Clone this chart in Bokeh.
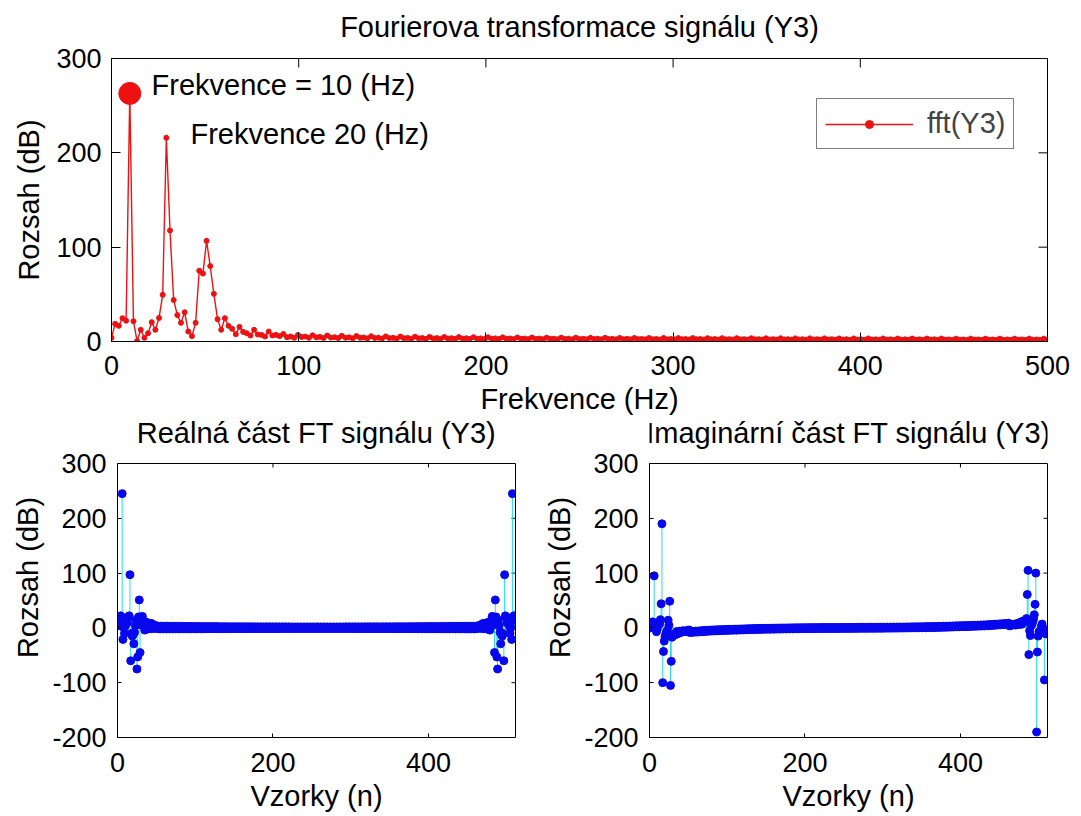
import numpy as np
from bokeh.plotting import figure
from bokeh.layouts import column, row
from bokeh.models import Range1d, FixedTicker, Label, Legend, LegendItem, LinearAxis
from bokeh.embed import file_html
from bokeh.resources import INLINE

FONT = "Liberation Sans"
FS = 1000          # sampling frequency (Hz)
N = 512            # FFT length

# |FFT| for bins k = 0..256
mag_half = [
    3.9, 18.7, 16.6, 24.7, 22.0, 263.0, 21.5, 0.5, 12.4, 3.9,
    8.8, 20.5, 12.4, 25.0, 49.5, 216.0, 117.7, 44.0, 28.0, 19.8,
    31.0, 10.6, 5.7, 19.8, 75.0, 72.0, 106.7, 80.0, 50.5, 23.7,
    12.4, 24.7, 16.6, 13.4, 7.8, 15.5, 10.2, 8.8, 6.4, 12.4,
    7.4, 7.0, 5.3, 10.6, 6.4, 7.0, 5.7, 8.0, 4.6, 5.3,
    3.9,
    7.0, 4.8, 5.2, 3.9, 6.6, 4.4, 4.9, 3.8,
    6.3, 4.2, 4.6, 3.6, 6.0, 4.0, 4.4, 3.4,
    5.8, 3.9, 4.2, 3.3, 5.6, 3.7, 4.0, 3.2,
    5.4, 3.6, 3.9, 3.1, 5.2, 3.5, 3.8, 3.0,
    5.1, 3.4, 3.7, 2.9, 4.9, 3.3, 3.6, 2.9,
    4.8, 3.2, 3.5, 2.8, 4.7, 3.1, 3.4, 2.8,
    4.6, 3.0, 3.3, 2.7, 4.5, 3.0, 3.3, 2.7,
    4.4, 2.9, 3.2, 2.6, 4.3, 2.9, 3.1, 2.6,
    4.2, 2.8, 3.1, 2.5, 4.1, 2.8, 3.0, 2.5,
    4.1, 2.7, 3.0, 2.4, 4.0, 2.7, 2.9, 2.4,
    3.9, 2.6, 2.9, 2.4, 3.9, 2.6, 2.8, 2.3,
    3.8, 2.5, 2.8, 2.3, 3.8, 2.5, 2.7, 2.3,
    3.7, 2.5, 2.7, 2.2, 3.7, 2.4, 2.7, 2.2,
    3.6, 2.4, 2.6, 2.2, 3.6, 2.4, 2.6, 2.2,
    3.5, 2.3, 2.6, 2.1, 3.5, 2.3, 2.5, 2.1,
    3.5, 2.3, 2.5, 2.1, 3.4, 2.3, 2.5, 2.1,
    3.4, 2.2, 2.5, 2.0, 3.4, 2.2, 2.4, 2.0,
    3.3, 2.2, 2.4, 2.0, 3.3, 2.2, 2.4, 2.0,
    3.3, 2.1, 2.4, 2.0, 3.2, 2.1, 2.4, 1.9,
    3.2, 2.1, 2.3, 1.9, 3.2, 2.1, 2.3, 1.9,
    3.2, 2.1, 2.3, 1.9, 3.1, 2.0, 2.3, 1.9,
    3.1, 2.0, 2.3, 1.9, 3.1, 2.0, 2.3, 1.9,
    3.1, 2.0, 2.2, 1.8, 3.0, 2.0, 2.2, 1.8,
    3.0, 2.0, 2.2, 1.8, 3.0, 2.0, 2.2, 1.8,
    3.0, 1.9, 2.2, 1.8, 3.0, 1.9, 2.2, 1.8,
    3.0, 1.9, 2.2, 1.8,
    3.0, 1.9,
]

re_half = [
    4.0, 16.0, 14.0, 22.0, 20.0, 245.0, -21.0, 0.4, -10.0, 3.0,
    7.0, 18.0, 10.0, 20.0, 22.0, 97.0, -60.0, -10.0, -15.0, -12.0,
    -29.0, -8.0, 4.0, 14.0, -75.0, -53.0, 20.0, 51.0, -45.0, 20.0,
    5.0, 21.0, 11.0, 7.0, -4.0, 11.0, 3.0, 2.0, -2.0, 9.0,
    3.0, 2.0, -1.5, 8.0, 2.0, 2.5, -1.0, 5.0, 1.5, 2.0,
    -1.0,
    3.2, -1.4, 1.5, -1.8, 3.2, -1.4, 1.5, -1.8, 3.1, -1.4,
    1.5, -1.8, 3.1, -1.4, 1.5, -1.7, 3.0, -1.3, 1.4, -1.7,
    3.0, -1.3, 1.4, -1.7, 2.9, -1.3, 1.4, -1.7, 2.9, -1.3,
    1.4, -1.6, 2.8, -1.3, 1.4, -1.6, 2.8, -1.2, 1.3, -1.6,
    2.7, -1.2, 1.3, -1.6, 2.7, -1.2, 1.3, -1.5, 2.6, -1.2,
    1.3, -1.5, 2.6, -1.2, 1.3, -1.5, 2.5, -1.1, 1.2, -1.5,
    2.5, -1.1, 1.2, -1.4, 2.5, -1.1, 1.2, -1.4, 2.4, -1.1,
    1.2, -1.4, 2.4, -1.1, 1.2, -1.4, 2.4, -1.1, 1.1, -1.4,
    2.3, -1.0, 1.1, -1.3, 2.3, -1.0, 1.1, -1.3, 2.3, -1.0,
    1.1, -1.3, 2.2, -1.0, 1.1, -1.3, 2.2, -1.0, 1.1, -1.3,
    2.2, -1.0, 1.1, -1.2, 2.2, -1.0, 1.0, -1.2, 2.1, -1.0,
    1.0, -1.2, 2.1, -0.9, 1.0, -1.2, 2.1, -0.9, 1.0, -1.2,
    2.1, -0.9, 1.0, -1.2, 2.0, -0.9, 1.0, -1.1, 2.0, -0.9,
    1.0, -1.1, 2.0, -0.9, 1.0, -1.1, 2.0, -0.9, 1.0, -1.1,
    2.0, -0.9, 1.0, -1.1, 1.9, -0.9, 0.9, -1.1, 1.9, -0.9,
    0.9, -1.1, 1.9, -0.9, 0.9, -1.1, 1.9, -0.8, 0.9, -1.1,
    1.9, -0.8, 0.9, -1.0, 1.9, -0.8, 0.9, -1.0, 1.9, -0.8,
    0.9, -1.0, 1.8, -0.8, 0.9, -1.0, 1.8, -0.8, 0.9, -1.0,
    1.8, -0.8, 0.9, -1.0, 1.8, -0.8, 0.9, -1.0, 1.8, -0.8,
    0.9, -1.0, 1.8, -0.8, 0.9, -1.0, 1.8, -0.8, 0.9, -1.0,
    1.8, -0.8, 0.9, -1.0, 1.8, -0.8,
]

# Imaginary part for bins k = 0..256
im_half = [
    0.0, 9.0, 9.0, 11.0, 9.0, 95.0, 4.0, -0.3, -7.0, -2.5,
    5.0, 10.0, 7.0, 15.0, 44.0, 190.0, -100.0, -43.0, -24.0, -16.0,
    -11.0, -7.0, -4.0, 14.0, 5.0, 48.7, -105.0, -61.0, -17.0, -13.0,
    -11.3, -13.0, -12.5, -11.4, -6.7, -11.0, -9.7, -8.6, -6.0, -8.5,
    -6.8, -6.7, -5.1, -7.0, -6.0, -6.5, -5.6, -6.2, -4.4, -4.9,
    -3.8,
    -8.5, -6.9, -7.6, -6.4, -8.1, -6.5, -7.2, -6.0, -7.7, -6.1,
    -6.8, -5.6, -7.3, -5.7, -6.4, -5.2, -6.9, -5.3, -6.0, -4.8,
    -6.5, -4.9, -5.6, -4.4, -6.1, -4.5, -5.2, -4.0, -5.7, -4.1,
    -4.9, -3.7, -5.5, -3.9, -4.7, -3.5, -5.3, -3.7, -4.5, -3.3,
    -5.0, -3.5, -4.2, -3.1, -4.8, -3.3, -4.0, -2.9, -4.6, -3.1,
    -3.9, -2.7, -4.4, -2.9, -3.6, -2.5, -4.2, -2.7, -3.4, -2.3,
    -4.1, -2.6, -3.3, -2.2, -3.9, -2.4, -3.1, -2.0, -3.7, -2.2,
    -2.9, -1.8, -3.5, -2.0, -2.7, -1.6, -3.3, -1.8, -2.5, -1.4,
    -3.2, -1.7, -2.4, -1.3, -3.0, -1.5, -2.2, -1.1, -2.8, -1.3,
    -2.1, -1.0, -2.7, -1.2, -1.9, -0.8, -2.5, -1.0, -1.8, -0.7,
    -2.5, -1.0, -1.7, -0.6, -2.4, -0.9, -1.6, -0.5, -2.3, -0.8,
    -1.5, -0.4, -2.2, -0.7, -1.4, -0.3, -2.1, -0.6, -1.3, -0.2,
    -2.0, -0.5, -1.3, -0.2, -1.9, -0.4, -1.2, -0.1, -1.8, -0.3,
    -1.1, 0.0, -1.7, -0.2, -1.0, 0.1, -1.6, -0.2, -0.9, 0.1,
    -1.6, -0.1, -0.9, 0.2, -1.5, 0.0, -0.8, 0.3, -1.5, 0.0,
    -0.8, 0.3, -1.4, 0.1, -0.7, 0.4, -1.4, 0.1, -0.7, 0.4,
    -1.3, 0.2, -0.6, 0.5, -1.3, 0.2, -0.6, 0.5, -1.2, 0.2,
    -0.5, 0.6, -1.2, 0.3, -0.5, 0.6, -1.2, 0.3, -0.4, 0.6,
    -1.1, 0.4, -0.4, 0.7, -1.1, 0.4, -0.4, 0.7, -1.1, 0.4,
    -0.4, 0.7, -1.1, 0.4, -0.3, 0.7, -1.0, 0.5, -0.3, 0.8,
    -1.0, 0.5, -0.3, 0.8, -1.0, 0.0,
]

assert len(mag_half) == len(re_half) == len(im_half) == N // 2 + 1

top_ticks_x = [0, 100, 200, 300, 400, 500]
top_ticks_y = [0, 100, 200, 300]
bot_ticks_x = [0, 200, 400]
bot_ticks_y = [-200, -100, 0, 100, 200, 300]

# frequency axis of the one-sided spectrum
freq = np.arange(len(mag_half)) * FS / N
# full two-sided spectrum of a real signal (conjugate symmetry)
re_full = np.array(re_half + re_half[-2:0:-1])
im_full = np.array(im_half + [-v for v in im_half[-2:0:-1]])
samples = np.arange(1, N + 1)

RED = "#ee1111"
BLUE = "#0808ee"
CYAN = "#22ddf0"
TICK_PX = "27px"
LAB_PX = "29px"

# layout geometry (pixels)
TOP_FIG_H = 417
BOT_FIG_H = 816 - TOP_FIG_H
TOP_W, TOP_H = 936, 283          # top box
BOT_W, BOT_H = 398, 274          # lower boxes
BOT_BORDER_B = 79
BOT_FRAME_H = BOT_FIG_H - BOT_BORDER_B          # frame reaches the figure top
BOT_YLO, BOT_YHI = -200, 300                    # box limits of the lower panels
UNITS_PER_PX = (BOT_YHI - BOT_YLO) / BOT_H
BOT_FRAME_TOP = BOT_YLO + BOT_FRAME_H * UNITS_PER_PX   # room for the panel title
BOT_TITLE_Y = BOT_YHI + 31 * UNITS_PER_PX


def base_style(p, tick_len):
    p.grid.visible = False
    p.background_fill_color = "white"
    p.border_fill_color = "white"
    for ax in p.xaxis + p.yaxis:
        ax.major_tick_in = tick_len
        ax.major_tick_out = 0
        ax.minor_tick_in = 0
        ax.minor_tick_out = 0
        ax.axis_line_color = "black"
        ax.major_tick_line_color = "black"
        ax.major_label_text_font = FONT
        ax.major_label_text_font_size = TICK_PX
        ax.major_label_text_color = "black"
        ax.axis_label_text_font = FONT
        ax.axis_label_text_font_size = LAB_PX
        ax.axis_label_text_font_style = "normal"
        ax.axis_label_text_color = "black"


def mirror_ticks(p, xt, yt, xr, yr, w_px, h_px, tick_len):
    dy = tick_len * (yr[1] - yr[0]) / h_px
    dx = tick_len * (xr[1] - xr[0]) / w_px
    p.segment(x0=xt, y0=[yr[1]] * len(xt), x1=xt, y1=[yr[1] - dy] * len(xt),
              line_color="black", line_width=1)
    p.segment(x0=[xr[1]] * len(yt), y0=yt, x1=[xr[1] - dx] * len(yt), y1=yt,
              line_color="black", line_width=1)


def head_axis(text, standoff):
    return LinearAxis(ticker=FixedTicker(ticks=[]), axis_label=text,
                      axis_label_standoff=standoff, axis_label_text_font=FONT,
                      axis_label_text_font_size=LAB_PX, axis_label_text_font_style="normal",
                      axis_label_text_color="black", axis_line_color="black",
                      major_tick_in=0, major_tick_out=0, minor_tick_in=0, minor_tick_out=0,
                      major_label_standoff=0)


# ---------------- top panel ----------------
p = figure(width=1081, height=TOP_FIG_H, x_range=Range1d(0, 500), y_range=Range1d(0, 300),
           output_backend="svg", toolbar_location=None,
           min_border_left=111, min_border_right=34, min_border_top=58,
           min_border_bottom=TOP_FIG_H - 58 - TOP_H,
           x_axis_label="Frekvence (Hz)", y_axis_label="Rozsah (dB)")
base_style(p, 9)
p.outline_line_color = "black"
p.xaxis.ticker = FixedTicker(ticks=top_ticks_x)
p.yaxis.ticker = FixedTicker(ticks=top_ticks_y)
p.xaxis.major_label_standoff = 14
p.xaxis.axis_label_standoff = 5
p.yaxis.major_label_standoff = 10
p.yaxis.axis_label_standoff = 8
p.add_layout(head_axis("Fourierova transformace signálu (Y3)", 16), "above")
mirror_ticks(p, top_ticks_x, top_ticks_y, (0, 500), (0, 300), TOP_W, TOP_H, 9)

lr = p.line(freq, mag_half, line_color=RED, line_width=1.4)
sr = p.scatter(freq, mag_half, size=5, fill_color=RED, line_color=RED)
p.scatter([freq[5]], [mag_half[5]], size=22, fill_color=RED, line_color=RED)
p.add_layout(Label(x=21.4, y=271.5, text="Frekvence = 10 (Hz)", text_baseline="middle",
                   text_font=FONT, text_font_size=LAB_PX, text_color="black"))
p.add_layout(Label(x=42.2, y=219.5, text="Frekvence 20 (Hz)", text_baseline="middle",
                   text_font=FONT, text_font_size=LAB_PX, text_color="black"))
leg = Legend(items=[LegendItem(label="fft(Y3)", renderers=[lr, sr])],
             location=(705, 192), border_line_color="black", border_line_width=1,
             label_text_font=FONT, label_text_font_size=LAB_PX, glyph_width=88,
             glyph_height=20, padding=8, margin=0, spacing=0, label_standoff=14,
             background_fill_alpha=1.0)
p.add_layout(leg)


# ---------------- lower panels ----------------
def stem_panel(vals, title, width, left, right):
    q = figure(width=width, height=BOT_FIG_H, x_range=Range1d(0, 512),
               y_range=Range1d(BOT_YLO, BOT_FRAME_TOP),
               output_backend="svg", toolbar_location=None,
               min_border_left=left, min_border_right=right, min_border_top=0,
               min_border_bottom=BOT_BORDER_B,
               x_axis_label="Vzorky (n)", y_axis_label="Rozsah (dB)")
    base_style(q, 4)
    q.outline_line_color = None
    q.xaxis.ticker = FixedTicker(ticks=bot_ticks_x)
    q.yaxis.ticker = FixedTicker(ticks=bot_ticks_y)
    q.yaxis.bounds = (BOT_YLO, BOT_YHI)
    q.yaxis.major_label_overrides = {t: str(t) for t in bot_ticks_y if t < 0}
    q.xaxis.major_label_standoff = 15
    q.xaxis.axis_label_standoff = 5
    q.yaxis.major_label_standoff = 11
    # right edge and top edge of the box
    edge = LinearAxis(ticker=FixedTicker(ticks=[]), bounds=(BOT_YLO, BOT_YHI),
                      axis_line_color="black", major_tick_in=0, major_tick_out=0,
                      minor_tick_in=0, minor_tick_out=0, major_label_standoff=0)
    q.add_layout(edge, "right")
    q.segment(x0=[0], y0=[BOT_YHI], x1=[512], y1=[BOT_YHI], line_color="black", line_width=1)
    mirror_ticks(q, bot_ticks_x, bot_ticks_y, (0, 512), (BOT_YLO, BOT_YHI), BOT_W, BOT_H, 4)

    q.segment(x0=samples, y0=np.zeros(N), x1=samples, y1=vals, line_color=CYAN, line_width=1)
    q.scatter(samples, vals, size=8, fill_color=BLUE, line_color=BLUE)
    q.add_layout(Label(x=256, y=BOT_TITLE_Y, text=title, text_align="center",
                       text_baseline="middle", text_font=FONT, text_font_size=LAB_PX,
                       text_color="black"))
    return q


bl = stem_panel(re_full, "Reálná část FT signálu (Y3)", 540, 117, 25)
br = stem_panel(im_full, "Imaginární část FT signálu (Y3)", 541, 109, 34)

layout = column(p, row(bl, br, spacing=0), spacing=0)
open("out.html", "w").write(file_html(layout, INLINE))
